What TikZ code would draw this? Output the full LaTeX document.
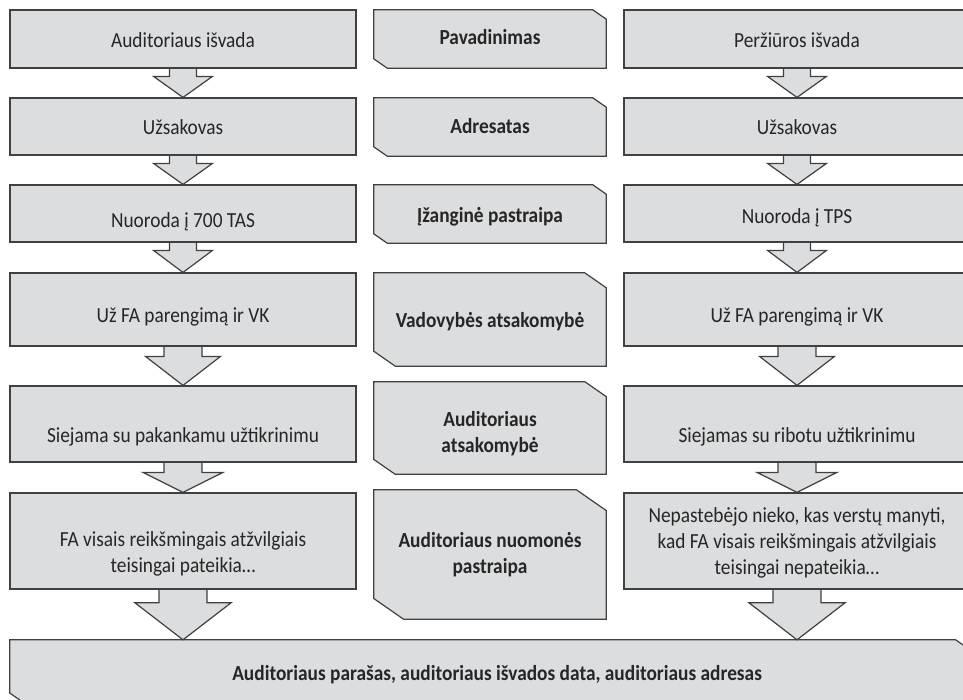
\documentclass[tikz,border=0pt]{standalone}
\usepackage{fontspec}
\setmainfont{Carlito}[FakeStretch=0.9]
\usetikzlibrary{calc,backgrounds}

\definecolor{boxfill}{RGB}{220,221,223}
\definecolor{boxline}{RGB}{64,64,64}
\definecolor{ink}{RGB}{38,38,38}

% block arrow from the bottom of one box to the top of the next
\newcommand\blockarrow[5]{% from, to, shaft half width, head half width, head length
  \path[arrowbody] let \p1=(#1.south), \p2=(#2.north) in
    (\x1-#3pt,\y1) -- (\x1-#3pt,\y2+#5pt) -- (\x1-#4pt,\y2+#5pt) -- (\x1,\y2)
    -- (\x1+#4pt,\y2+#5pt) -- (\x1+#3pt,\y2+#5pt) -- (\x1+#3pt,\y1);
}
% box with two snipped corners (top right, bottom left)
\newcommand\snipbox[1]{%
  \path[snipshape] let \p1=(#1.south west), \p2=(#1.north east),
    \n1={0.23*(\y2-\y1)}, \n2={0.16*(\y2-\y1)} in
    (\x1,\y1+\n2) -- (\x1,\y2) -- (\x2-\n1,\y2) -- (\x2,\y2-\n2) -- (\x2,\y1) -- (\x1+\n1,\y1) -- cycle;
}

\begin{document}
\begin{tikzpicture}[
x=1pt, y=-1pt,
sidebox/.style={draw=boxline, fill=boxfill, line width=1.2pt, minimum width=346pt, inner sep=0pt},
midbox/.style={minimum width=232pt, inner sep=0pt},
snipshape/.style={draw=boxline, fill=boxfill, line width=1.2pt},
arrowbody/.style={draw=boxline, fill=boxfill, line width=1.2pt},
txt/.style={font=\fontsize{21.5}{26}\selectfont, text=ink, align=center, inner sep=0pt},
boldtxt/.style={txt, font=\fontsize{21.5}{26}\selectfont\bfseries}
]
\useasboundingbox (0,0) rectangle (963,699);

\def\xl{183}	% left column
\def\xm{490}	% middle column
\def\xr{797}	% right column

% % side columns
\foreach \i/\yc/\h/\tyl/\tyr/\lt/\rt in {
  1/39/58/40.5/40.5/{Auditoriaus išvada}/{Peržiūros išvada},
  2/126.5/57/127.5/127.5/{Užsakovas}/{Užsakovas},
  3/213.5/57/222/218/{Nuoroda į 700 TAS}/{Nuoroda į TPS},
  4/309.5/73/317/317/{Už FA parengimą ir VK}/{Už FA parengimą ir VK},
  5/424/76/437/437/{Siejama su pakankamu užtikrinimu}/{Siejamas su ribotu užtikrinimu},
  6/541/96/554/542.5/{FA visais reikšmingais atžvilgiais\\teisingai pateikia…}/{Nepastebėjo nieko, kas verstų manyti,\\kad FA visais reikšmingais atžvilgiais\\teisingai nepateikia…}}{
\node[sidebox, minimum height=\h pt] (l\i) at (\xl,\yc) {};
\node[txt] (l\i t) at (\xl,\tyl) {\lt};
\node[sidebox, minimum height=\h pt] (r\i) at (\xr,\yc) {};
\node[txt] (r\i t) at (\xr,\tyr) {\rt};
}

% % middle column
\foreach \i/\yc/\h/\ty/\mt in {
  1/39/58/37/{Pavadinimas},
  2/127/58/126/{Adresatas},
  3/214/58/217/{Įžanginė pastraipa},
  4/319.5/93/322/{Vadovybės atsakomybė},
  5/428/92/434/{Auditoriaus\\atsakomybė},
  6/554.5/129/555/{Auditoriaus nuomonės\\pastraipa}}{
\node[midbox, minimum height=\h pt] (m\i) at (\xm,\yc) {};
\node[boldtxt] (m\i t) at (\xm,\ty) {\mt};
}

% % bottom
\node[inner sep=0pt, minimum width=960pt, minimum height=63pt] (bot) at (490,671.5) {};
\node[boldtxt] (bott) at (497,675) {Auditoriaus parašas, auditoriaus išvados data, auditoriaus adresas};

\begin{scope}[on background layer]
\foreach \b in {m1,m2,m3,m4,m5,m6,bot}{\snipbox{\b}}
\foreach \a/\c/\s/\w/\k in {1/2/13.5/29.5/21, 2/3/13.5/29.5/21, 3/4/13.5/29.5/22,
  4/5/19/37.5/29, 5/6/19/40/20}{
  \blockarrow{l\a}{l\c}{\s}{\w}{\k}
  \blockarrow{r\a}{r\c}{\s}{\w}{\k}
}
\blockarrow{l6}{bot}{24}{48}{37}
\blockarrow{r6}{bot}{24}{48}{37}
\end{scope}

\end{tikzpicture}
\end{document}
